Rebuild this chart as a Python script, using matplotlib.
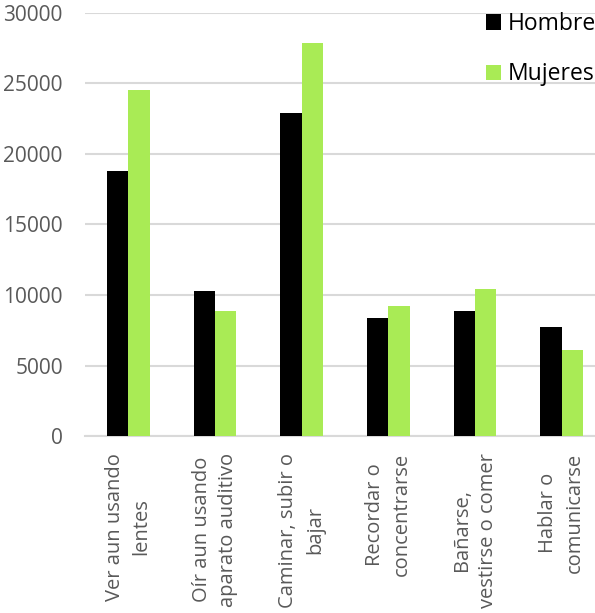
import matplotlib.pyplot as plt
import numpy as np

categorias = ["Ver aun usando\nlentes", "Oír aun usando\naparato auditivo",
              "Caminar, subir o\nbajar", "Recordar o\nconcentrarse",
              "Bañarse,\nvestirse o comer", "Hablar o\ncomunicarse"]
hombres = [18800, 10300, 22900, 8400, 8900, 7750]
mujeres = [24550, 8900, 27900, 9200, 10400, 6100]

plt.rcParams['font.family'] = ['Open Sans', 'DejaVu Sans']

fig = plt.figure(figsize=(5.95, 6.13), dpi=100)
ax = fig.add_axes([85/595, 1 - 436/613, 520/595, 423/613])

x = np.arange(len(categorias))
w = 0.245
ax.bar(x - w/2, hombres, w, color='black', label='Hombre', zorder=3)
ax.bar(x + w/2, mujeres, w, color='#a9eb55', label='Mujeres', zorder=3)

ax.set_xlim(-0.5, len(categorias) - 0.5)
ax.set_ylim(0, 30000)
ax.set_yticks(range(0, 30001, 5000))
ax.yaxis.grid(True, color='#d9d9d9', linewidth=1.5, zorder=0)
ax.set_axisbelow(True)
for s in ['top', 'right', 'left']:
    ax.spines[s].set_visible(False)
ax.spines['bottom'].set_color('#d9d9d9')
ax.spines['bottom'].set_linewidth(1.5)
ax.tick_params(axis='both', length=0, colors='#595959')
ax.tick_params(axis='y', labelsize=15, pad=16)
ax.set_xticks(x)
ax.set_xticklabels(categorias, rotation=90, ha='center', va='top',
                   multialignment='center', fontsize=14.5, linespacing=1.45)
ax.tick_params(axis='x', pad=12)

ax.legend(loc='upper left', bbox_to_anchor=(486/595, 1 - 12/613), bbox_transform=fig.transFigure,
          frameon=False, fontsize=16.5, handlelength=0.66, handleheight=0.66,
          handletextpad=0.3, labelspacing=1.15, borderaxespad=0, borderpad=0)

fig.savefig('out.png', dpi=100)
